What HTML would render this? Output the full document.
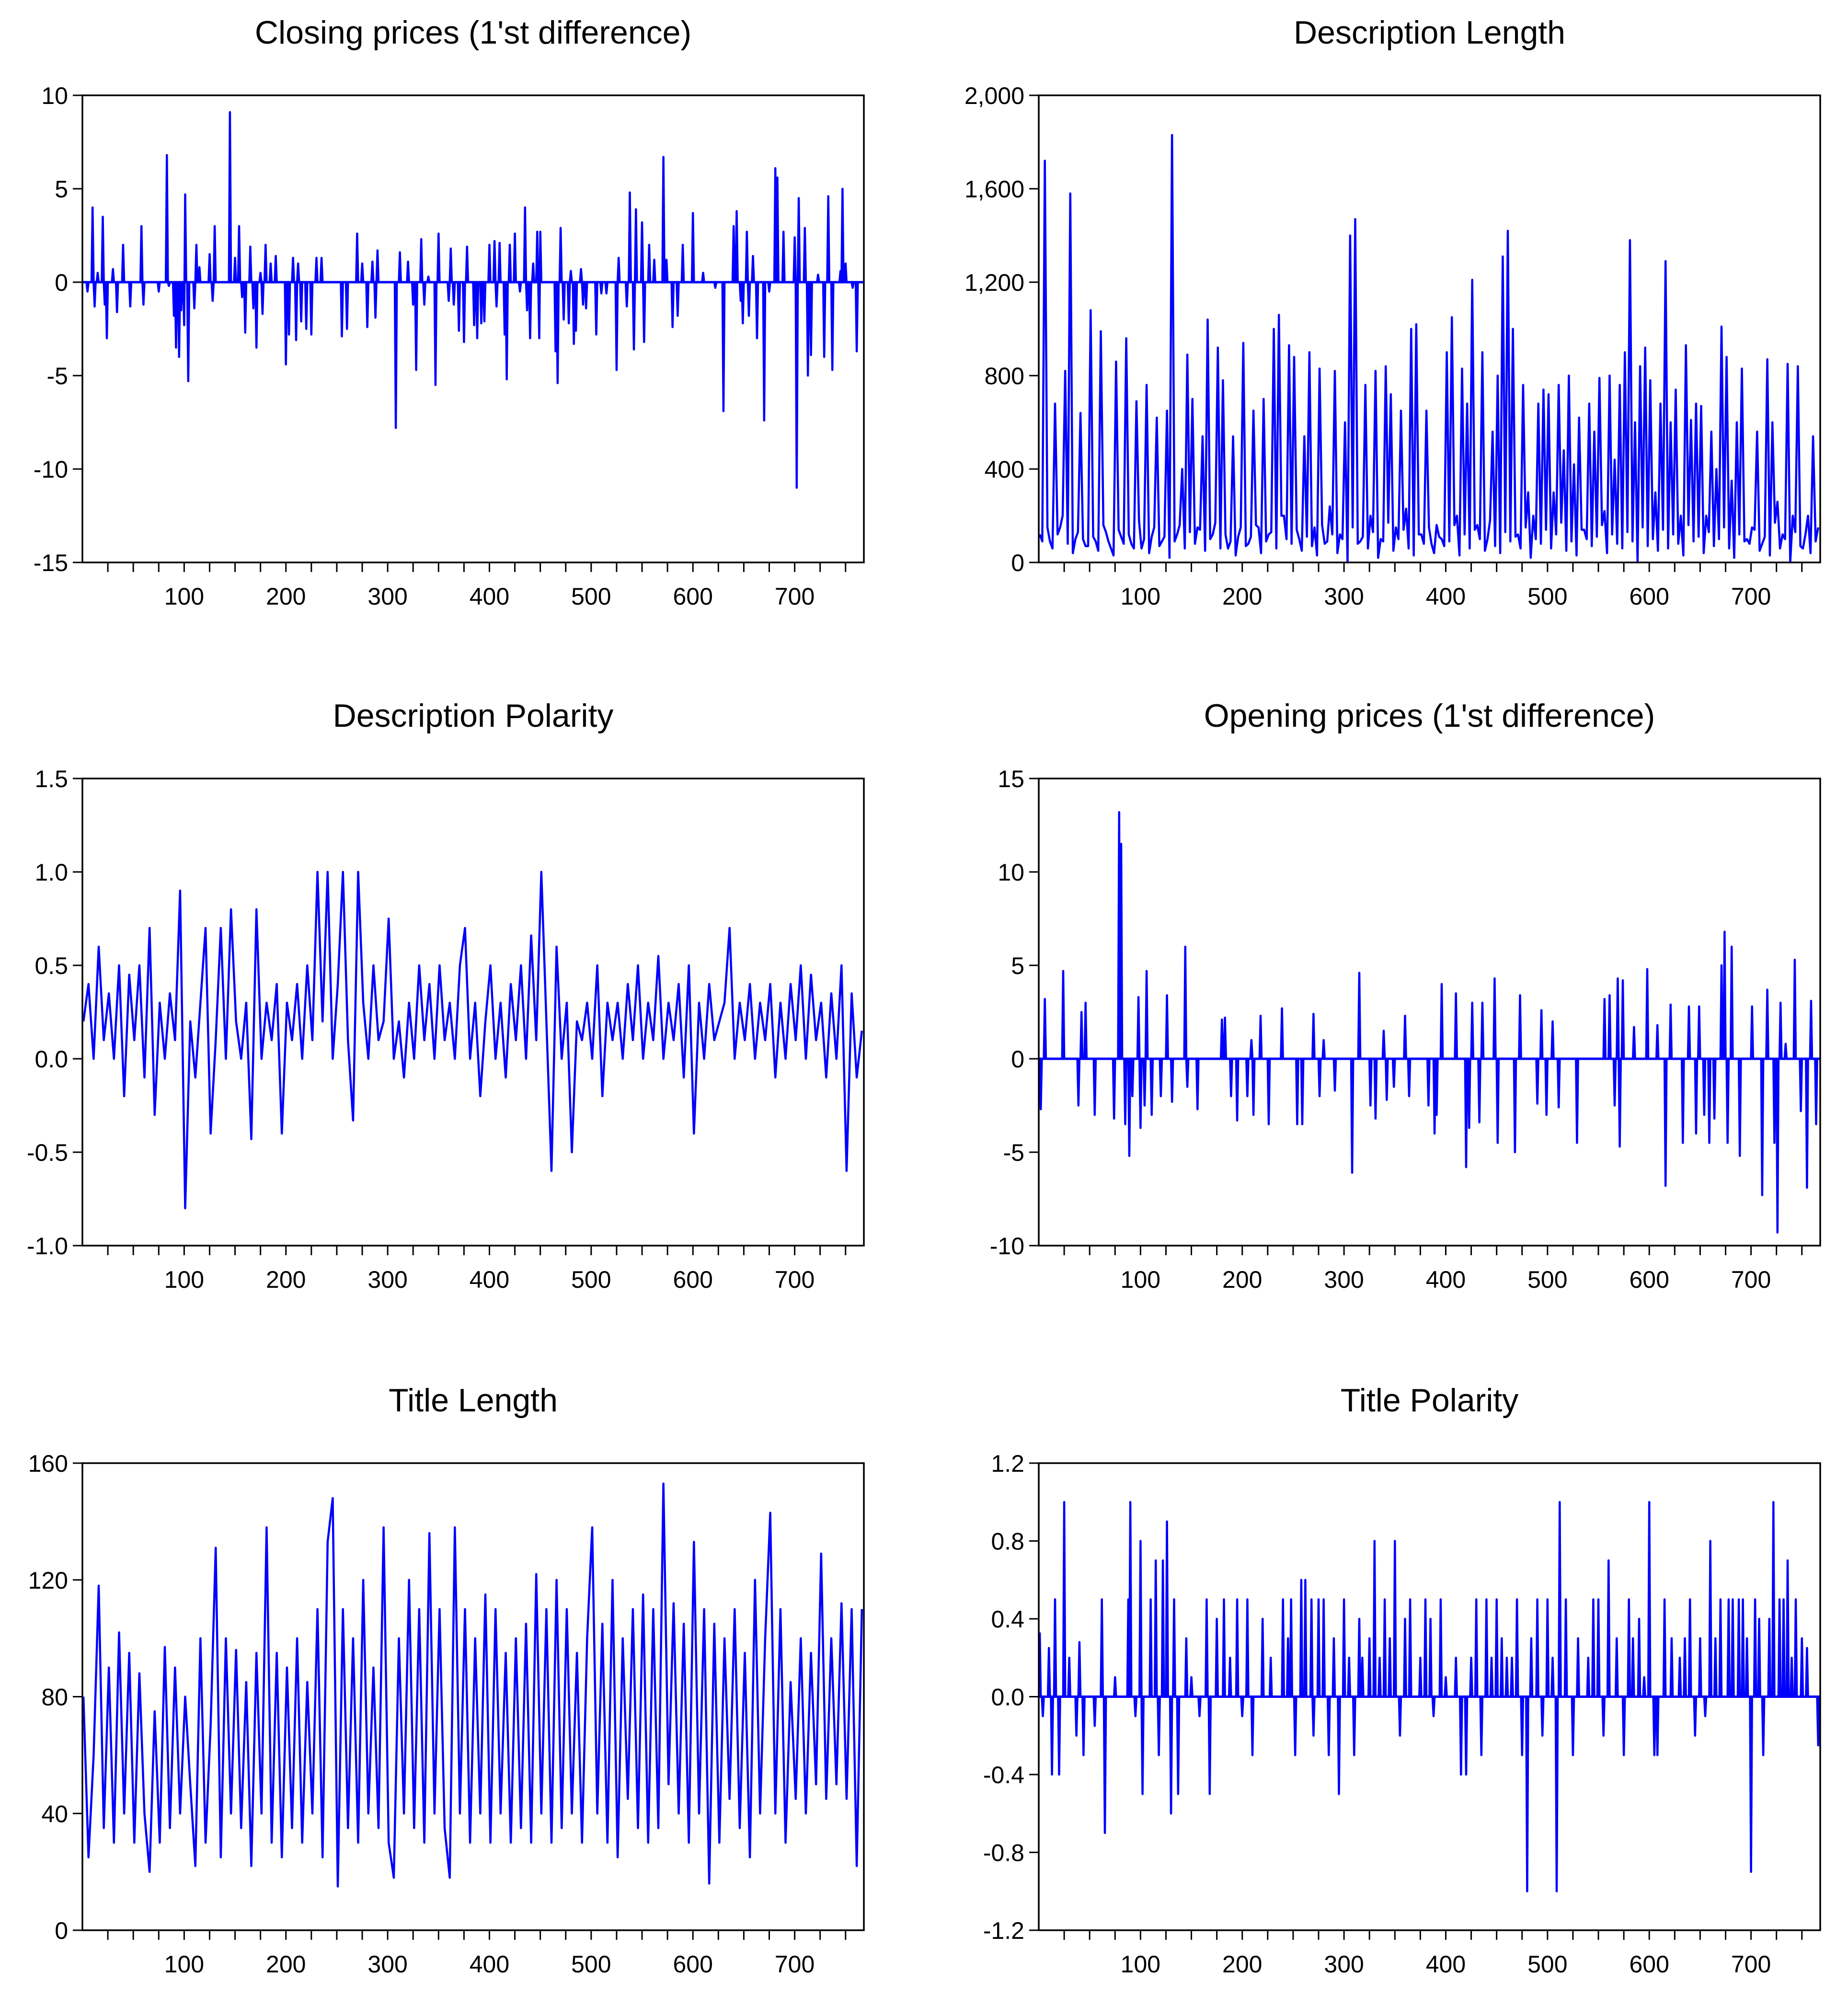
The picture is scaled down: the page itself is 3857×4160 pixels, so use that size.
<!DOCTYPE html>
<html><head><meta charset="utf-8"><style>html,body{margin:0;padding:0;background:#fff}svg{display:block}</style></head>
<body>
<svg id="chart" width="3857" height="4160" viewBox="0 0 3857 4160" xmlns="http://www.w3.org/2000/svg" font-family="Liberation Sans, sans-serif"></svg>
<script>
// ---- data ----
const closeIdx=[5,10,12,15,20,22,24,30,34,40,47,58,60,75,83,85,90,92,95,97,100,101,104,110,112,115,125,128,130,145,150,154,157,160,165,168,171,175,177,180,185,190,200,203,207,210,212,215,220,225,230,235,255,260,270,275,280,285,288,290,308,312,320,325,328,333,336,340,347,350,360,362,365,370,375,378,385,388,392,395,400,405,407,410,415,417,420,425,430,435,437,440,443,447,449,450,465,467,470,473,478,480,483,485,490,492,495,505,510,515,525,527,535,538,542,544,550,552,557,562,571,574,580,585,590,600,610,622,630,640,643,647,649,653,655,659,663,670,675,681,683,689,700,702,704,710,713,716,723,729,733,737,745,747,750,757,761];
const closeVal=[-0.5,4,-1.3,0.5,3.5,-1.2,-3,0.7,-1.6,2,-1.3,3,-1.2,-0.5,6.8,-0.2,-1.8,-3.5,-4,-1.5,-2.3,4.7,-5.3,-1.4,2,0.8,1.5,-1,3,9.1,1.3,3,-0.8,-2.7,1.9,-1.4,-3.5,0.5,-1.7,2,1,1.4,-4.4,-2.8,1.3,-3.1,1,-2.1,-2.5,-2.8,1.3,1.3,-2.9,-2.5,2.6,1,-2.4,1.1,-1.9,1.7,-7.8,1.6,1.1,-1.2,-4.7,2.3,-1.2,0.3,-5.5,2.6,-1,1.8,-1.2,-2.6,-3.2,1.9,-2.3,-3,-2.2,-2.1,2,2.2,-1.3,2.1,-2.8,-5.2,2,2.6,-0.5,4,-1.5,-3,1,2.7,-3,2.7,-3.7,-5.4,2.9,-2,-2.2,0.6,-3.3,-2.6,0.7,-1.2,-1.4,-2.8,-0.6,-0.6,-4.7,1.3,-1.3,4.8,-3.6,3.9,3.2,-3.2,2,1.2,6.7,1.2,-2.4,-1.8,2,3.7,0.5,-0.3,-6.9,3,3.8,-1,-2.2,2.7,-1.8,1.4,-3,-7.4,-0.5,6.1,5.6,2.7,2.4,-11,4.5,2.9,-5,-3.9,0.4,-4,4.6,-4.7,0.6,5,1,-0.3,-3.7,-4.3];

const descLenVal=[120,1720,90,680,150,820,1580,100,640,70,
1080,90,990,130,60,860,110,960,80,690,
60,760,110,620,90,650,1830,120,400,890,
700,150,540,1040,120,920,780,60,540,110,
940,80,650,150,700,120,1000,1060,200,930,
880,100,540,900,150,830,80,240,820,120,
600,1400,1470,90,760,200,820,100,840,720,
150,650,230,1000,1020,120,650,80,160,100,
900,1050,200,830,680,1210,160,900,100,560,
800,1310,1420,1000,120,760,300,200,680,740,
720,300,760,480,800,420,620,140,680,560,
790,220,800,440,760,900,1380,600,840,920,
780,300,680,1290,600,740,200,930,610,680,
670,200,560,400,1010,880,350,600,830,100,
150,560,80,870,600,260,120,850,200,840,
60,200,540,150];
const descLenLow=[90,150,60,120,200,80,40,130,100,70,
110,50,160,90,30,140,80,120,60,180,
100,40,150,70,110,20,90,160,60,130,
80,140,50,100,170,60,120,90,30,150,
70,110,160,40,90,130,60,200,100,80,
140,50,110,70,30,160,90,120,40,100,
0,150,80,110,60,130,20,90,170,50,
100,140,60,30,120,80,150,40,110,70,
90,160,30,120,60,140,100,50,180,70,
40,130,90,110,60,150,20,100,80,140,
60,120,170,50,90,30,140,100,70,110,
160,40,120,80,60,130,90,0,150,70,
100,50,140,60,120,80,30,160,90,110,
40,130,70,100,150,60,20,120,90,80,
140,50,110,30,170,60,100,0,130,70,
120,40,90];

const descPolVal=[0.2,0.4,0.0,0.6,0.1,0.35,0.0,0.5,-0.2,0.45,
0.1,0.5,-0.1,0.7,-0.3,0.3,0.0,0.35,0.1,0.9,
-0.8,0.2,-0.1,0.3,0.7,-0.4,0.1,0.7,0.0,0.8,
0.2,0.0,0.3,-0.43,0.8,0.0,0.3,0.1,0.4,-0.4,
0.3,0.1,0.4,0.0,0.5,0.1,1.0,0.2,1.0,0.0,
0.4,1.0,0.1,-0.33,1.0,0.3,0.0,0.5,0.1,0.2,
0.75,0.0,0.2,-0.1,0.3,0.0,0.5,0.1,0.4,0.0,
0.5,0.1,0.3,0.0,0.5,0.7,0.0,0.3,-0.2,0.2,
0.5,0.0,0.3,-0.1,0.4,0.1,0.5,0.0,0.66,0.1,
1.0,0.2,-0.6,0.6,0.0,0.3,-0.5,0.2,0.1,0.3,
0.0,0.5,-0.2,0.3,0.1,0.3,0.0,0.4,0.1,0.5,
0.0,0.3,0.1,0.55,0.0,0.3,0.1,0.4,-0.1,0.5,
-0.4,0.3,0.0,0.4,0.1,0.2,0.3,0.7,0.0,0.3,
0.1,0.4,0.0,0.3,0.1,0.4,-0.1,0.3,0.0,0.4,
0.1,0.5,0.0,0.45,0.1,0.3,-0.1,0.35,0.0,0.5,
-0.6,0.35,-0.1,0.15];

const openIdx=[2,6,24,39,42,46,55,74,79,81,85,89,92,98,100,104,106,111,120,126,131,144,146,156,180,183,189,195,205,209,211,218,226,239,254,259,270,276,280,291,308,315,326,331,339,342,349,360,364,383,389,391,396,410,420,423,426,433,436,448,451,468,473,490,494,499,505,511,529,556,561,566,569,571,574,585,598,608,616,621,633,639,646,649,654,659,664,671,674,677,681,689,701,711,716,723,726,729,734,743,749,755,759,764];
const openVal=[-2.7,3.2,4.7,-2.5,2.5,3,-3,-3.2,13.2,11.5,-3.5,-5.2,-2,3.3,-3.7,-2.5,4.7,-3,-2,3.4,-2.3,6,-1.5,-2.7,2.1,2.2,-2,-3.3,-2,1,-3,2.3,-3.5,2.7,-3.5,-3.5,2.4,-2,1,-1.7,-6.1,4.6,-2.5,-3.2,1.5,-2.2,-1.5,2.3,-2,-2.5,-4,-3,4,3.5,-5.8,-3.7,3,-3.4,3,4.3,-4.5,-5,3.4,-2.4,2.6,-3,2,-2.6,-4.5,3.2,3.4,-2.5,4.3,-4.7,4.2,1.7,4.8,1.8,-6.8,2.9,-4.5,2.8,-4,2.8,-3,-4.5,-3.2,5,6.8,-4.5,6,-5.2,2.8,-7.3,3.7,-4.5,-9.3,3,0.8,5.3,-2.8,-6.9,3.1,-3.5];

const titleLenVal=[80,25,60,118,35,90,30,102,40,95,
30,88,40,20,75,30,97,35,90,40,
80,50,22,100,30,70,131,25,100,40,
96,35,85,22,95,40,138,30,95,25,
90,35,100,30,85,40,110,25,133,148,
15,110,35,100,30,120,40,90,35,138,
30,18,100,40,120,35,110,30,136,40,
110,35,18,138,40,110,30,100,40,115,
30,110,40,95,30,100,35,105,30,122,
40,110,30,120,35,110,40,95,30,100,
138,40,105,30,120,25,100,45,110,35,
115,30,110,35,153,50,112,40,105,30,
133,40,110,16,105,30,100,45,110,35,
95,25,120,40,100,143,40,110,30,85,
45,100,40,95,50,129,45,100,50,112,
45,110,22,110];

const tpolIdx=[1,4,10,13,16,20,25,30,37,40,44,55,62,65,75,88,90,95,100,102,110,115,118,122,126,130,133,137,145,150,158,165,168,175,182,188,195,200,205,210,220,228,240,245,248,252,258,262,268,270,275,280,285,290,295,300,305,310,315,318,325,330,335,340,345,350,355,360,365,375,380,385,388,395,400,410,415,420,425,430,435,440,445,450,455,460,465,470,475,480,484,490,495,500,505,509,512,518,525,530,540,545,550,555,560,568,575,580,584,590,595,600,605,608,615,622,630,635,640,645,650,655,660,665,670,678,682,688,692,696,700,704,708,712,718,722,728,732,736,740,744,750,755,760,766];
const tpolVal=[0.33,-0.1,0.25,-0.4,0.5,-0.4,1.0,0.2,-0.2,0.28,-0.3,-0.15,0.5,-0.7,0.1,0.5,1.0,-0.1,0.8,-0.5,0.5,0.7,-0.3,0.7,0.9,-0.6,0.5,-0.5,0.3,0.1,-0.1,0.5,-0.5,0.4,0.5,0.2,0.5,-0.1,0.5,-0.3,0.4,0.2,0.5,0.3,0.5,-0.3,0.6,0.6,0.5,-0.2,0.5,0.5,-0.3,0.3,-0.5,0.5,0.2,-0.3,0.4,0.2,0.3,0.8,0.2,0.5,0.3,0.8,-0.2,0.4,0.5,0.2,0.5,0.4,-0.1,0.5,0.1,0.2,-0.4,-0.4,0.2,0.5,-0.3,0.5,0.2,0.5,0.3,0.2,0.2,0.5,-0.3,-1.0,0.3,0.5,-0.2,0.5,0.2,-1.0,1.0,0.5,-0.3,0.3,0.2,0.5,0.5,-0.2,0.7,0.3,-0.3,0.5,0.3,0.4,0.1,1.0,-0.3,-0.3,0.5,0.3,0.2,0.3,0.5,-0.2,0.3,-0.1,0.8,0.3,0.5,0.5,0.5,0.5,0.5,0.3,-0.9,0.5,0.4,-0.3,0.4,1.0,0.5,0.5,0.7,0.2,0.5,0.3,0.25,0.0,-0.25];

const xTickLabels=[100,200,300,400,500,600,700];
const closeTicks=[10,5,0,-5,-10,-15];
const descLenTicks=[0,400,800,1200,1600,2000];
const descPolTicks=[1.5,1.0,0.5,0.0,-0.5,-1.0];
const openTicks=[15,10,5,0,-5,-10];
const titleLenTicks=[0,40,80,120,160];
const tpolTicks=[1.2,0.8,0.4,0.0,-0.4,-0.8,-1.2];

// ---- drawing ----
const NS='http://www.w3.org/2000/svg';
const svg=document.getElementById('chart');
function mk(tag,attrs,parent){const e=document.createElementNS(NS,tag);for(const k in attrs)e.setAttribute(k,attrs[k]);(parent||svg).appendChild(e);return e;}
function sparse(idx,val){const a=new Array(768).fill(0);idx.forEach((d,i)=>{a[d]=val[i];});return a.map((v,i)=>[i,v]).slice(1);}
function dense(val){return val.map((v,k)=>[1+5*k,v]);}
function dense2(val,low){const out=[];val.forEach((v,k)=>{out.push([1+5*k,v]);if(k<low.length)out.push([3.5+5*k,low[k]]);});return out;}
function fmt(v,dec,comma){let s=dec>0?v.toFixed(dec):String(v);if(comma&&Math.abs(v)>=1000)s=s.replace(/\B(?=(\d{3})+(?!\d))/g,',');return s;}

const W=1631,H=975;
function panel(o){
  const g=mk('g',{});
  
  
  const x0=o.x0,x1=o.x0+W,y0=o.y0,y1=o.y0+H;
  const xs=i=>x0+(x1-x0)*i/768;
  const ymin=Math.min(...o.ticks),ymax=Math.max(...o.ticks);
  const ys=v=>y1-(y1-y0)*(v-ymin)/(ymax-ymin);
  const t=mk('text',{x:(x0+x1)/2,y:y0-108,'font-size':68,'text-anchor':'middle',fill:'#000'},g);
  t.textContent=o.title;
  
  
  const pts=o.data.map(p=>xs(p[0]).toFixed(1)+','+ys(p[1]).toFixed(1)).join(' ');
  const line=mk('polyline',{points:pts,fill:'none',stroke:'#0000ff','stroke-width':4.5,'stroke-linejoin':'round'},g);
  
  
  if(o.zero){const z=mk('line',{x1:x0,x2:x1,y1:ys(0),y2:ys(0),stroke:'#0000ff','stroke-width':5},g);
    
    }
  const box=mk('rect',{x:x0,y:y0,width:x1-x0,height:y1-y0,fill:'none',stroke:'#000','stroke-width':3.5},g);
  
  
  o.ticks.forEach(v=>{
    mk('line',{x1:x0-20,x2:x0,y1:ys(v),y2:ys(v),stroke:'#000','stroke-width':3},g);
    const l=mk('text',{x:x0-30,y:ys(v)+18,'font-size':50,'text-anchor':'end',fill:'#000'},g);
    l.textContent=fmt(v,o.dec,o.comma);
    
    
  });
  for(let i=25;i<768;i+=25){mk('line',{x1:xs(i),x2:xs(i),y1:y1,y2:y1+20,stroke:'#000','stroke-width':3},g);}
  xTickLabels.forEach(v=>{
    const l=mk('text',{x:xs(v),y:y1+88,'font-size':50,'text-anchor':'middle',fill:'#000'},g);
    l.textContent=v;
    
    
  });
}
const L=172,R=2168;
panel({name:'closing-prices',title:"Closing prices (1'st difference)",x0:L,y0:199,ticks:closeTicks,dec:0,data:sparse(closeIdx,closeVal),zero:true});
panel({name:'description-length',title:'Description Length',x0:R,y0:199,ticks:descLenTicks,dec:0,comma:true,data:dense2(descLenVal,descLenLow)});
panel({name:'description-polarity',title:'Description Polarity',x0:L,y0:1625,ticks:descPolTicks,dec:1,data:dense(descPolVal)});
panel({name:'opening-prices',title:"Opening prices (1'st difference)",x0:R,y0:1625,ticks:openTicks,dec:0,data:sparse(openIdx,openVal),zero:true});
panel({name:'title-length',title:'Title Length',x0:L,y0:3054,ticks:titleLenTicks,dec:0,data:dense(titleLenVal)});
panel({name:'title-polarity',title:'Title Polarity',x0:R,y0:3054,ticks:tpolTicks,dec:1,data:sparse(tpolIdx,tpolVal),zero:true});
</script>
</body></html>
